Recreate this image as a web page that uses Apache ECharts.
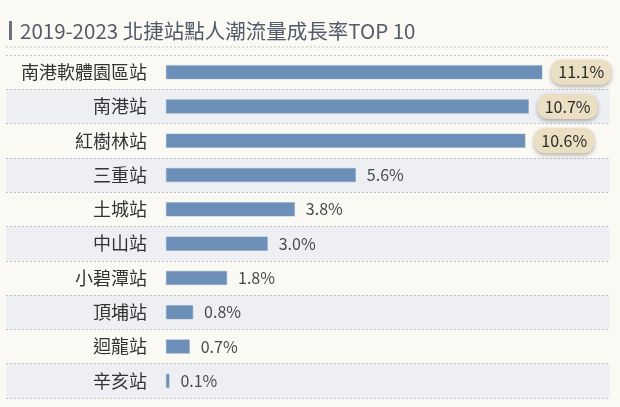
<!DOCTYPE html>
<html><head><meta charset="utf-8">
<script src="https://cdn.jsdelivr.net/npm/echarts@6/dist/echarts.min.js"></script>
<style>html,body{margin:0;padding:0;background:#faf9f4;}#c{width:620px;height:407px;}</style>
</head><body><div id="c"></div>
<script>
var titleText = '2019-2023 北捷站點人潮流量成長率TOP 10';
var stations = ['南港軟體園區站','南港站','紅樹林站','三重站','土城站','中山站','小碧潭站','頂埔站','迴龍站','辛亥站'];
var growth = [11.1, 10.7, 10.6, 5.6, 3.8, 3.0, 1.8, 0.8, 0.7, 0.1];
var highlightCount = 3;

var FONT = '"Noto Sans CJK TC", "Noto Sans", sans-serif';
var chart = echarts.init(document.getElementById('c'), null, {renderer:'canvas'});
var dotted = {color:'#bcc1ca', width:1, type:[2,2]};

var seriesData = growth.map(function(v,i){
  var d = {value:v};
  if (i < highlightCount) {
    d.label = {
      backgroundColor:'#eadfc2', borderRadius:10, padding:[5,7,4,7],
      color:'#2a2a2a', fontSize:16, distance:9,
      shadowColor:'rgba(0,0,0,0.3)', shadowBlur:4, shadowOffsetY:2
    };
  }
  return d;
});

chart.setOption({
  backgroundColor:'#faf9f4',
  animation:false,
  graphic:[
    {type:'rect', shape:{x:9, y:21, width:3, height:19}, style:{fill:'#6b7380'}},
    {type:'text', x:20, y:31, style:{text:titleText, font:'20.5px '+FONT, fill:'#525b69', textVerticalAlign:'middle'}},
    {type:'line', shape:{x1:6, y1:47, x2:610, y2:47}, style:{stroke:'#bcc1ca', lineWidth:1, lineDash:[2,2]}}
  ],
  grid:[
    {left:166, right:13.3, top:55, bottom:9},
    {left:6, right:10, top:55, bottom:9}
  ],
  xAxis:[
    {gridIndex:0, type:'value', min:0, max:13, show:false},
    {gridIndex:1, type:'value', min:0, max:1, show:false}
  ],
  yAxis:[
    {gridIndex:0, type:'category', data:stations, inverse:true,
     axisLine:{show:false}, axisTick:{show:false}, splitLine:{show:false},
     axisLabel:{fontSize:18, color:'#333', margin:19, fontFamily:FONT}},
    {gridIndex:1, type:'category', data:stations, inverse:true,
     axisLine:{show:false}, axisTick:{show:false}, axisLabel:{show:false},
     splitLine:{show:true, lineStyle:dotted},
     splitArea:{show:true, areaStyle:{color:['rgba(0,0,0,0)','#edeff3']}}}
  ],
  series:[
    {type:'bar', xAxisIndex:0, yAxisIndex:0, data:seriesData, barWidth:14,
     itemStyle:{color:'#6c8fb7', borderColor:'#8ba7c8', borderWidth:0.5},
     label:{show:true, position:'right', distance:11, fontSize:16, color:'#4a4a4a', fontFamily:FONT,
       formatter:function(p){return p.value.toFixed(1)+'%';}}}
  ]
});
</script></body></html>
